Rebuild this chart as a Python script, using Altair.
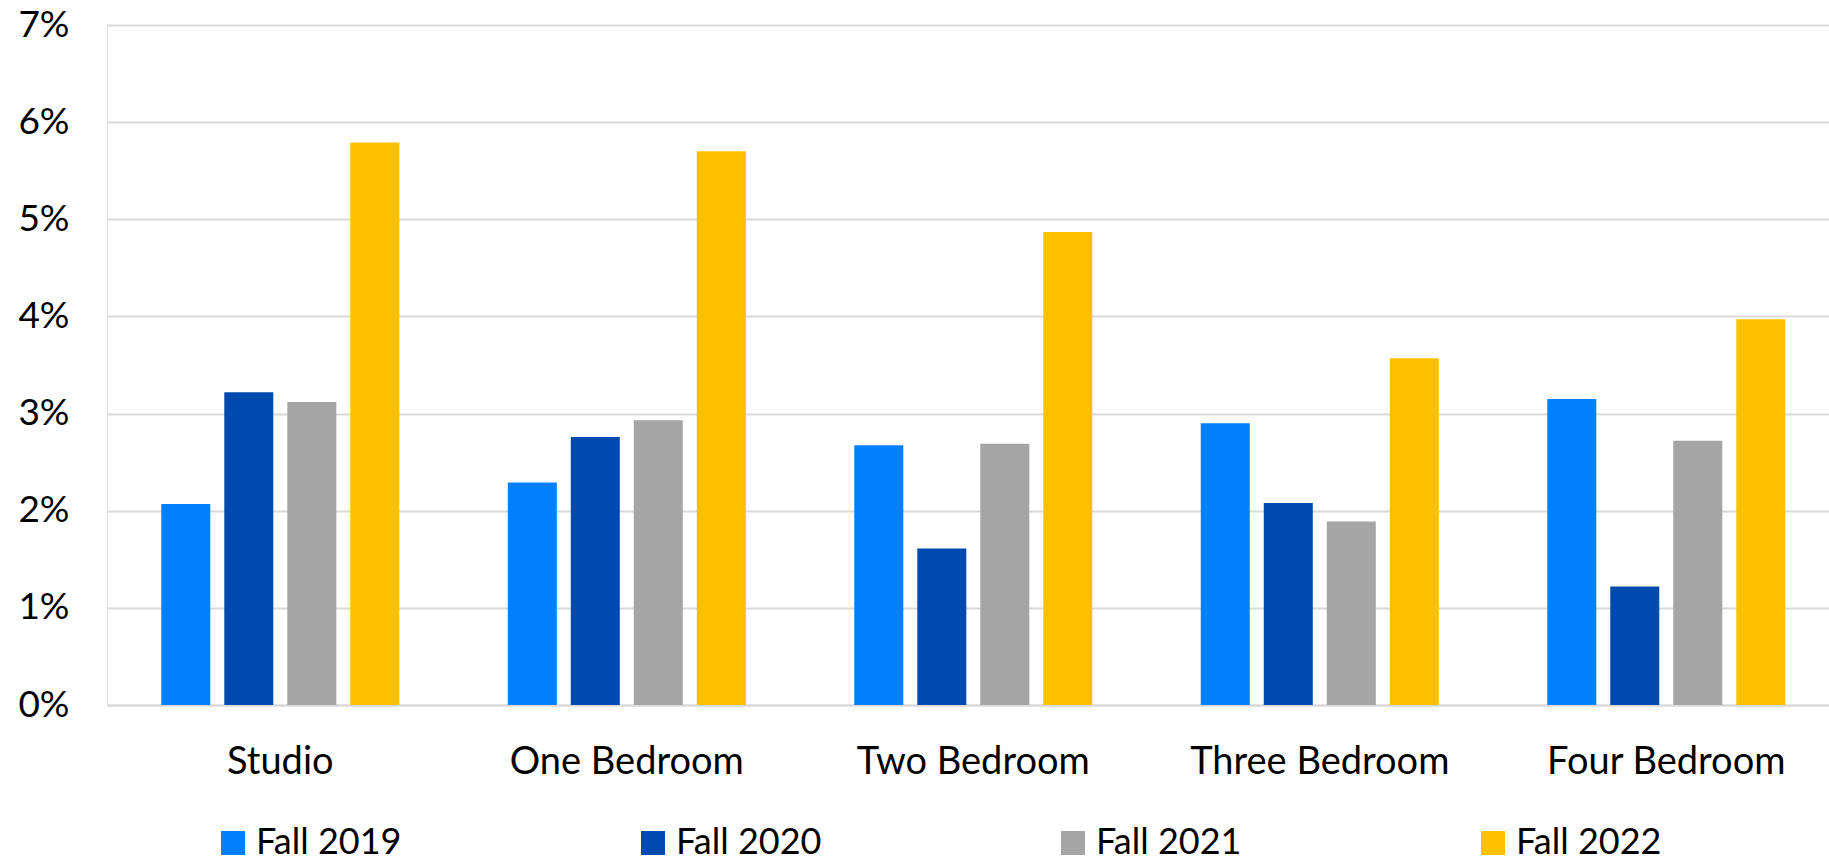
import altair as alt
import pandas as pd

categories = ["Studio", "One Bedroom", "Two Bedroom", "Three Bedroom", "Four Bedroom"]
series = ["Fall 2019", "Fall 2020", "Fall 2021", "Fall 2022"]
fall_2019 = [2.07, 2.29, 2.675, 2.90, 3.15]
fall_2020 = [3.22, 2.76, 1.61, 2.08, 1.22]
fall_2021 = [3.12, 2.93, 2.69, 1.89, 2.72]
fall_2022 = [5.79, 5.70, 4.87, 3.57, 3.97]
colors = ["#0080FF", "#004AAD", "#A5A5A5", "#FFC000"]
y_ticks = [0, 1, 2, 3, 4, 5, 6, 7]

rows = []
for s, vals in zip(series, [fall_2019, fall_2020, fall_2021, fall_2022]):
    for c, v in zip(categories, vals):
        rows.append({"category": c, "series": s, "value": v})
df = pd.DataFrame(rows)

FONT = "Lato"
FS = 37

chart = alt.Chart(df).mark_bar().encode(
    x=alt.X("category:N", sort=categories, title=None,
            scale=alt.Scale(paddingInner=0.313, paddingOuter=0.1414, align=0.554),
            axis=alt.Axis(labelAngle=0, labelFontSize=38, labelFont=FONT, labelColor="#000000",
                          labelPadding=38, ticks=False, domainColor="#D9D9D9", domainWidth=2,
                          labelLimit=400)),
    xOffset=alt.XOffset("series:N", sort=series,
                        scale=alt.Scale(paddingInner=0.222, paddingOuter=0)),
    y=alt.Y("value:Q", title=None,
            scale=alt.Scale(domain=[0, 7], nice=False),
            axis=alt.Axis(values=y_ticks, labelExpr="datum.value + '%'", labelFontSize=FS,
                          labelFont=FONT, labelColor="#000000", labelPadding=38,
                          ticks=False, domain=False, gridColor="#D9D9D9", gridWidth=2)),
    color=alt.Color("series:N", sort=series,
                    scale=alt.Scale(domain=series, range=colors),
                    legend=alt.Legend(title=None, orient="none", direction="horizontal",
                                      legendX=108, legendY=800, symbolType="square",
                                      symbolSize=576, symbolStrokeWidth=0, symbolOpacity=1,
                                      labelFontSize=36, labelFont=FONT, labelColor="#000000",
                                      labelOffset=5, columnPadding=233, padding=0,
                                      labelLimit=400)),
).properties(
    width=1722, height=680,
    autosize=alt.AutoSizeParams(type="none"),
    padding={"left": 107, "top": 25, "right": 0, "bottom": 157},
).configure_view(stroke=None).configure(background="white")

chart.save("out.html", embed_options={"renderer": "svg", "actions": False})
